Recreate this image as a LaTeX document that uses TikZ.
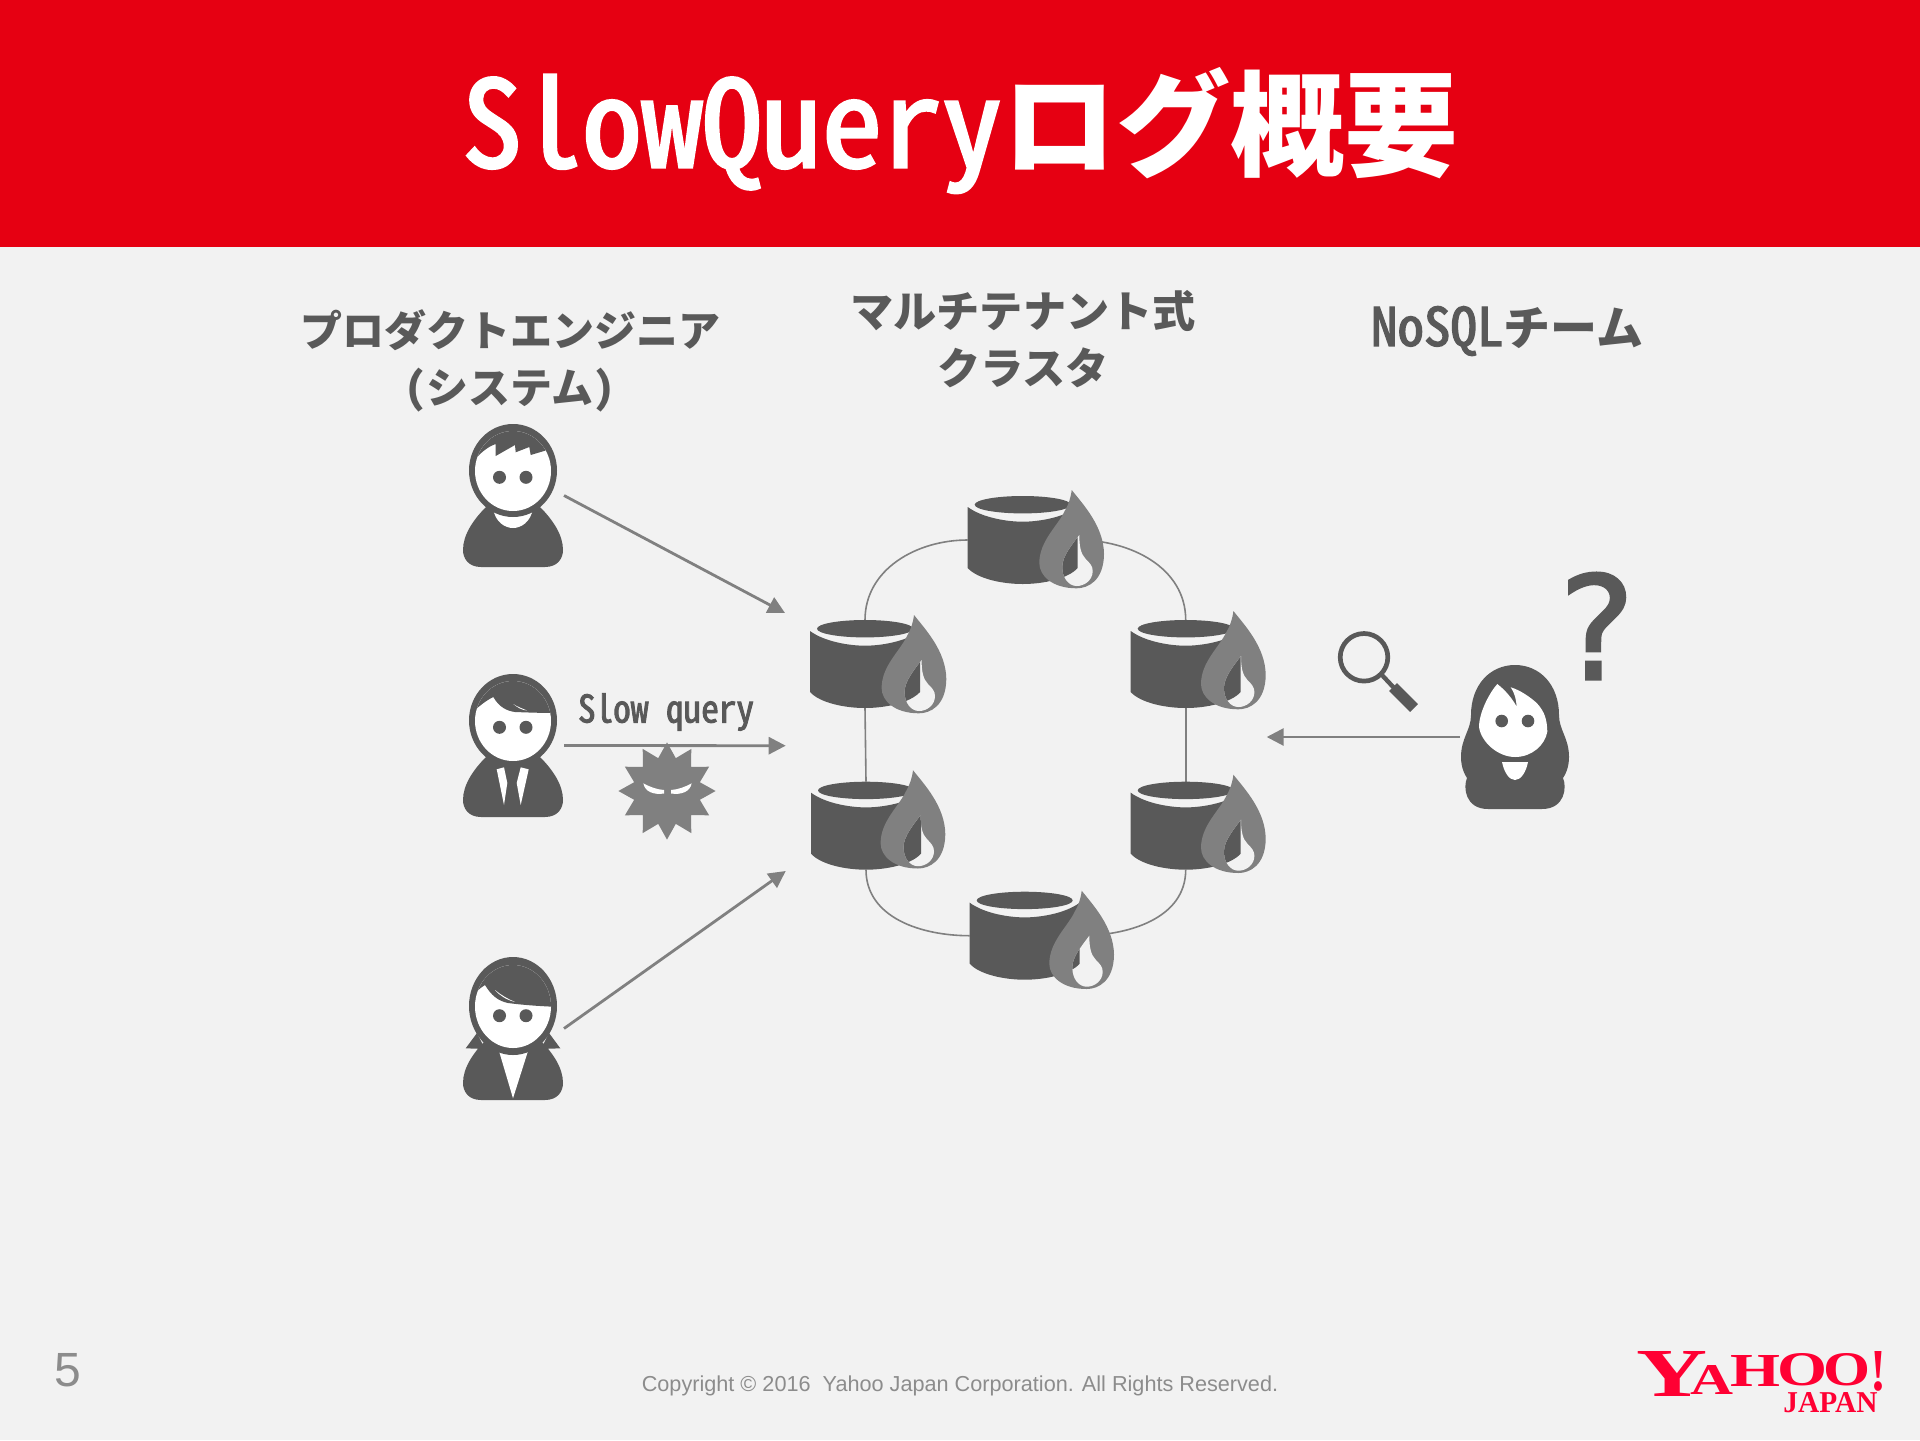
\documentclass[tikz,border=0pt]{standalone}
\usepackage{fontspec}
\usepackage{graphicx}
\usetikzlibrary{arrows.meta,shapes.geometric}
\setmainfont{Liberation Sans}
\newfontfamily\jp[RawFeature=+hwid]{Noto Sans CJK JP}
\newfontfamily\jpm[RawFeature=+hwid,FakeBold=2.5]{Noto Sans CJK JP}
\newfontfamily\qfont[FakeBold=1.5]{DejaVu Sans}
\newfontfamily\lgfont{Liberation Serif}
\definecolor{ybg}{HTML}{F2F2F2}
\definecolor{yred}{HTML}{E60012}
\definecolor{ydark}{HTML}{595959}
\definecolor{ygray}{HTML}{808080}
\definecolor{yfoot}{HTML}{8C8C8C}
\definecolor{ylogo}{HTML}{FF0033}
\tikzset{
  hlabel/.style={text=ydark,align=center,font=\jp\bfseries\fontsize{21}{28.5}\selectfont,inner sep=0},
  iconbox/.style={inner sep=0,outer sep=0,minimum width=51pt,minimum height=71.5pt},
  dbbox/.style={inner sep=0,outer sep=0,minimum width=55pt,minimum height=44pt},
  flow/.style={draw=ygray,line width=1.4pt,-{Triangle[length=8.5pt,width=8.5pt]}},
  ring/.style={draw=ygray,line width=0.8pt},
}
\newcommand{\pbody}{\fill[ydark] (-32,97) -- (32,97) .. controls (45,97) and (50,88) .. (50,80) .. controls (50,65) and (40,50) .. (27,37) -- (-27,37) .. controls (-40,50) and (-50,65) .. (-50,80) .. controls (-50,88) and (-45,97) .. (-32,97) -- cycle;}
\newcommand{\peyes}[1]{\fill[ydark] (-13.5,#1) circle[radius=6.5] (13,#1) circle[radius=6.5];}
\newcommand{\dbbodypath}{(-55,11) .. controls (-40,22) and (-15,25.7) .. (0,25.7) .. controls (15,25.7) and (40,22) .. (55,11) -- (55,72) .. controls (45,83) and (20,88) .. (0,88) .. controls (-20,88) and (-45,83) .. (-55,72) -- cycle}
\newcommand{\dropinner}{(56.6,39) .. controls (56.6,50) and (58,58) .. (63,63) .. controls (67,67) and (70,70) .. (70,75) .. controls (70,84) and (62,90) .. (54,90) .. controls (46,90) and (39.6,82) .. (39.6,71) .. controls (39.6,60) and (50,48) .. (56.6,39) -- cycle}
\newcommand{\dbicon}[4]{%
 \begin{scope}[shift={(#1,#2)}]
  \fill[ydark] \dbbodypath;
  \fill[ydark] (0,8.7) ellipse[x radius=48,y radius=8.7];
  \begin{scope}[shift={(#3,#4)}]
   \fill[ygray] (49,-6) .. controls (60,8) and (81,30) .. (81.3,58) .. controls (81,85) and (65,92.3) .. (54,92.3) .. controls (30,92.3) and (16.6,80) .. (16.6,67) .. controls (16.6,45) and (35,30) .. (42,15) .. controls (46,8) and (48,2) .. (49,-6) -- cycle;
   \fill[ybg] \dropinner;
  \end{scope}
  \begin{scope}
   \clip[shift={(#3,#4)}] \dropinner;
   \fill[ydark] \dbbodypath;
  \end{scope}
 \end{scope}}
\newcommand{\lgl}[4]{\raisebox{#3pt}{\resizebox{#1pt}{#2pt}{#4}}}
\begin{document}
\begin{tikzpicture}[x=0.5pt,y=-0.5pt]
\useasboundingbox (0,0) rectangle (1920,1440);
\fill[ybg] (0,0) rectangle (1920,1440);
\fill[yred] (0,0) rectangle (1920,247);
\node[text=white,inner sep=0] (title) at (960,130) {{\jpm\fontsize{60}{60}\selectfont SlowQuery}{\jp\bfseries\fontsize{57}{57}\selectfont ログ概要}};

% labels
\node[hlabel] (lprod) at (510,361) {プロダクトエンジニア\\(システム)};
\node[hlabel,font=\jp\bfseries\fontsize{21.6}{28.7}\selectfont] (lclus) at (1023,339) {マルチテナント式\\クラスタ};
\node[text=ydark,inner sep=0] (lnosql) at (1507,331) {{\jpm\fontsize{26.5}{26.5}\selectfont NoSQL}{\jp\bfseries\fontsize{23.5}{23.5}\selectfont チーム}};

% anchor nodes
\node[iconbox] (p1) at (513,495.5) {};
\node[iconbox] (p2) at (513,745.5) {};
\node[iconbox] (p3) at (513,1028.5) {};
\node[iconbox,minimum width=54.5pt] (p4) at (1514.5,737) {};
\node[dbbox] (db1) at (1022.7,540) {};
\node[dbbox] (db2) at (865,664) {};
\node[dbbox] (db3) at (1185.7,664) {};
\node[dbbox] (db4) at (866,825.7) {};
\node[dbbox] (db5) at (1185.7,825.7) {};
\node[dbbox] (db6) at (1024.7,935.7) {};
\coordinate (in1) at (785,613);
\coordinate (in2) at (785.7,745.7);
\coordinate (in3) at (785.7,871);
\coordinate (in4) at (1266.7,737);

% ring
\draw[ring] (db1.west) to[out=180,in=90] (db2.north);
\draw[ring] (db1.east) to[out=0,in=90] (db3.north);
\draw[ring] (db2.south) -- (db4.north);
\draw[ring] (db3.south) -- (db5.north);
\draw[ring] (db4.south) to[out=270,in=180] (db6.west);
\draw[ring] (db5.south) to[out=270,in=0] (db6.east);

% flows
\draw[flow] (p1.east) -- (in1);
\draw[flow] (p2.east) -- (in2);
\draw[flow] (p3.east) -- (in3);
\draw[flow] (p4.west) -- (in4);
\node[text=ydark,inner sep=0,font=\jpm\fontsize{17.6}{18}\selectfont] (lslow) at (666,712) {\scalebox{1}[1.08]{Slow query}};

% databases
\dbicon{1022.7}{496}{0}{0}
\dbicon{865}{620}{0}{1}
\dbicon{1185.7}{620}{-1.3}{-3}
\dbicon{866}{781.7}{-2}{-5.5}
\dbicon{1185.7}{781.7}{-1.3}{-1}
\dbicon{1024.7}{891.7}{8}{5}

% slow query monster
\node[star,star points=12,star point ratio=1.43,fill=ygray,inner sep=0,minimum size=48.6pt] (bug) at (667,791) {};
\fill[white] (643.3,783.3) .. controls (650,787) and (657,789.5) .. (664,790) -- (664,793.5) .. controls (654,795) and (645,792) .. (643.3,783.3) -- cycle;
\fill[white] (691.7,783.3) .. controls (685,787) and (678,789.5) .. (671,790) -- (671,793.5) .. controls (681,795) and (690,792) .. (691.7,783.3) -- cycle;

% person 1
\begin{scope}[shift={(513,470)}]
 \pbody
 \fill[white] (-20,38) .. controls (-18,52) and (-8,58) .. (0,58) .. controls (8,58) and (18,52) .. (20,38) -- cycle;
 \fill[ydark] (0,0.5) ellipse[x radius=44,y radius=46.5];
 \fill[white] (0,1) ellipse[x radius=38,y radius=40];
 \begin{scope}
  \clip (0,1) ellipse[x radius=38,y radius=40];
  \fill[ydark] (-17.3,-26) -- (-17.3,-14) -- (2,-25) -- (2.7,-17.7) -- (16.3,-23) -- (17.7,-15) -- (32,-19.3) -- (40,-28) -- (40,-50) -- (-40,-50) -- (-40,-8) .. controls (-34,-16) and (-26,-23) .. (-17.3,-26) -- cycle;
 \end{scope}
 \peyes{7.3}
\end{scope}

% person 2
\begin{scope}[shift={(513,720)}]
 \pbody
 \fill[ydark] (0,0.5) ellipse[x radius=44,y radius=46.5];
 \fill[white] (0,1) ellipse[x radius=38,y radius=40];
 \begin{scope}
  \clip (0,1) ellipse[x radius=38,y radius=40];
  \fill[ydark] (-19.7,-23) .. controls (-14,-13) and (-6,-9) .. (2,-8) .. controls (15,-7.5) and (30,-7) .. (40,-7) -- (40,-50) -- (-40,-50) -- (-40,-8) .. controls (-34,-14) and (-26,-20) .. (-19.7,-23) -- cycle;
 \end{scope}
 \fill[white] (0.3,-16) .. controls (5,-12) and (9,-10) .. (14,-9.5) .. controls (8,-12) and (3,-14) .. (0.3,-16) -- cycle;
 \fill[white] (-16.3,49.3) -- (-9,47.3) -- (-5.7,63) -- (-9,85) -- cycle;
 \fill[white] (15.7,49.3) -- (7.7,47.3) -- (3.7,63) -- (7.7,85) -- cycle;
 \peyes{7.3}
\end{scope}

% person 3
\begin{scope}[shift={(513,1003)}]
 \pbody
 \fill[ydark] (-47.3,45.3) -- (-36,30) -- (-28,46) -- cycle;
 \fill[ydark] (47.3,45.3) -- (36,30) -- (28,46) -- cycle;
 \fill[white] (-14,48) -- (15,48) -- (0,95.3) -- cycle;
 \fill[ydark] (0,3) ellipse[x radius=44,y radius=49];
 \fill[white] (0,3.5) ellipse[x radius=38,y radius=41.5];
 \begin{scope}
  \clip (0,3.5) ellipse[x radius=38,y radius=41.5];
  \fill[ydark] (-28,-18) .. controls (-22,-8) and (-15,-2) .. (-5,0) .. controls (10,2) and (25,3) .. (40,3.7) -- (40,-50) -- (-40,-50) -- (-40,-8) .. controls (-37,-11) and (-33,-15) .. (-28,-18) -- cycle;
 \end{scope}
 \fill[white] (-18,-13) .. controls (-12,-8) and (-5,-4) .. (2,-1) .. controls (-6,-3) and (-13,-7) .. (-18,-13) -- cycle;
 \peyes{12.7}
\end{scope}

% person 4
\fill[ydark] (1515,665) .. controls (1490,665) and (1471,685) .. (1471,715) .. controls (1471,730) and (1461,738) .. (1461,757) .. controls (1461,768) and (1465,775) .. (1467,778) .. controls (1463,787) and (1465,809) .. (1488,809) -- (1542,809) .. controls (1565,809) and (1567,787) .. (1563,778) .. controls (1565,775) and (1569,768) .. (1569,757) .. controls (1569,738) and (1559,730) .. (1559,715) .. controls (1559,685) and (1540,665) .. (1515,665) -- cycle;
\fill[white] (1497.3,684) .. controls (1490,692) and (1479,712) .. (1479,727) .. controls (1481,742) and (1498,757) .. (1515,757) .. controls (1532,757) and (1545,745) .. (1547.3,731.7) .. controls (1547,720) and (1545,712) .. (1536.7,703) .. controls (1530,697) and (1520,690) .. (1510.7,687.3) .. controls (1514,692) and (1516,698) .. (1516.7,706.7) .. controls (1512,698) and (1505,690) .. (1497.3,684) -- cycle;
\fill[ydark] (1501.7,721) circle[radius=6.3] (1528,721) circle[radius=6.3];
\fill[white] (1502,762) -- (1528,762) .. controls (1526,772) and (1521,780) .. (1515,780) .. controls (1509,780) and (1504,772) .. (1502,762) -- cycle;

% magnifier
\draw[ydark,line width=2.35pt] (1364,657.3) circle[radius=23.8];
\draw[ydark,line width=2.2pt] (1381,674) -- (1395,689);
\draw[ydark,line width=5.5pt] (1393,687) -- (1414,708);

% question mark
\node[text=ydark,inner sep=0,font=\qfont\fontsize{72}{72}\selectfont] (qm) at (1597,626) {?};

% footer
\node[text=yfoot,inner sep=0,font=\fontsize{24}{24}\selectfont] (pageno) at (68,1370) {5};
\node[text=yfoot,inner sep=0,font=\fontsize{10.83}{11}\selectfont] (copy) at (960,1386) {Copyright © 2016\ \ Yahoo Japan Corporation. All Rights Reserved.};

% logo
\node[text=ylogo,inner sep=0,anchor=base west,font=\lgfont\bfseries] (logo) at (1636,1396) {\lgl{35.5}{22.5}{0}{Y}\kern-8.5pt\lgl{21.5}{14.5}{1}{A}\kern-1.5pt\lgl{25}{15.5}{5}{H}\kern-1.5pt\lgl{25}{16}{5.5}{O}\kern-2pt\lgl{23.5}{16}{5.5}{O}\lgl{8}{19.5}{3}{!}\kern-4.5pt\llap{\raisebox{-8pt}{\resizebox{47pt}{10pt}{JAPAN}}}\kern4.5pt};
\end{tikzpicture}
\end{document}
